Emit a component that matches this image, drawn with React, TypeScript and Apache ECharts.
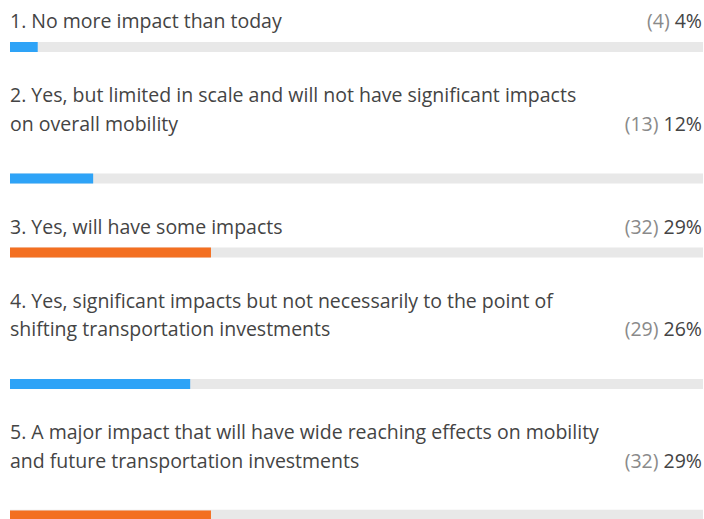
import React, { useEffect, useRef } from "react";
import * as echarts from "echarts";

const categories: string[] = [
  "1. No more impact than today",
  "2. Yes, but limited in scale and will not have significant impacts\non overall mobility",
  "3. Yes, will have some impacts",
  "4. Yes, significant impacts but not necessarily to the point of\nshifting transportation investments",
  "5. A major impact that will have wide reaching effects on mobility\nand future transportation investments",
];
const counts: number[] = [4, 13, 32, 29, 32];
const percents: number[] = [4, 12, 29, 26, 29];

const FONT = "'Open Sans', sans-serif";
const FONT_SIZE = 19.5;
const LINE_GAP = 28.5;
const BLUE = "#2ea3f7";
const ORANGE = "#f36f21";
const TRACK = "#e8e8e8";
const TEXT = "#444444";
const MUTED = "#8a8a8a";

export default function App() {
  const ref = useRef<HTMLDivElement>(null);
  useEffect(() => {
    document.body.style.margin = "0";
    const chart = echarts.init(ref.current!, null, { renderer: "svg" });
    const maxPct = Math.max(...percents);
    const grids: any[] = [];
    const xAxes: any[] = [];
    const yAxes: any[] = [];
    const series: any[] = [];
    const graphics: any[] = [];
    let baseline = 28;
    categories.forEach((cat, i) => {
      const lines = cat.split("\n");
      lines.forEach((ln, j) => {
        graphics.push({
          type: "text",
          left: 10,
          top: baseline + j * LINE_GAP - 17.5,
          style: { text: ln, fill: TEXT, font: `${FONT_SIZE}px ${FONT}` },
        });
      });
      const lastBase = baseline + (lines.length - 1) * LINE_GAP;
      graphics.push({
        type: "text",
        right: 2,
        top: lastBase - 17.5,
        style: {
          text: `{c|(${counts[i]})}{s| }{p|${percents[i]}%}`,
          rich: {
            c: { fill: MUTED, font: `${FONT_SIZE}px ${FONT}` },
            s: { font: `${FONT_SIZE}px ${FONT}` },
            p: { fill: TEXT, font: `${FONT_SIZE}px ${FONT}` },
          },
        },
      });
      const barTop = lastBase + (lines.length > 1 ? 43 : 14);
      grids.push({ left: 10, width: 693, top: barTop, height: 10 });
      xAxes.push({ type: "value", min: 0, max: 100, show: false, gridIndex: i });
      yAxes.push({ type: "category", data: [cat], show: false, gridIndex: i });
      series.push({
        type: "bar",
        xAxisIndex: i,
        yAxisIndex: i,
        data: [percents[i]],
        barWidth: 10,
        showBackground: true,
        backgroundStyle: { color: TRACK },
        itemStyle: { color: percents[i] === maxPct ? ORANGE : BLUE },
        silent: true,
      });
      baseline = barTop + 10 + 50;
    });
    chart.setOption({
      animation: false,
      grid: grids,
      xAxis: xAxes,
      yAxis: yAxes,
      series,
      graphic: graphics,
    });
    return () => chart.dispose();
  }, []);
  return (
    <div
      ref={ref}
      style={{ position: "absolute", left: 0, top: 0, width: 704, height: 519, background: "#fff" }}
    />
  );
}
